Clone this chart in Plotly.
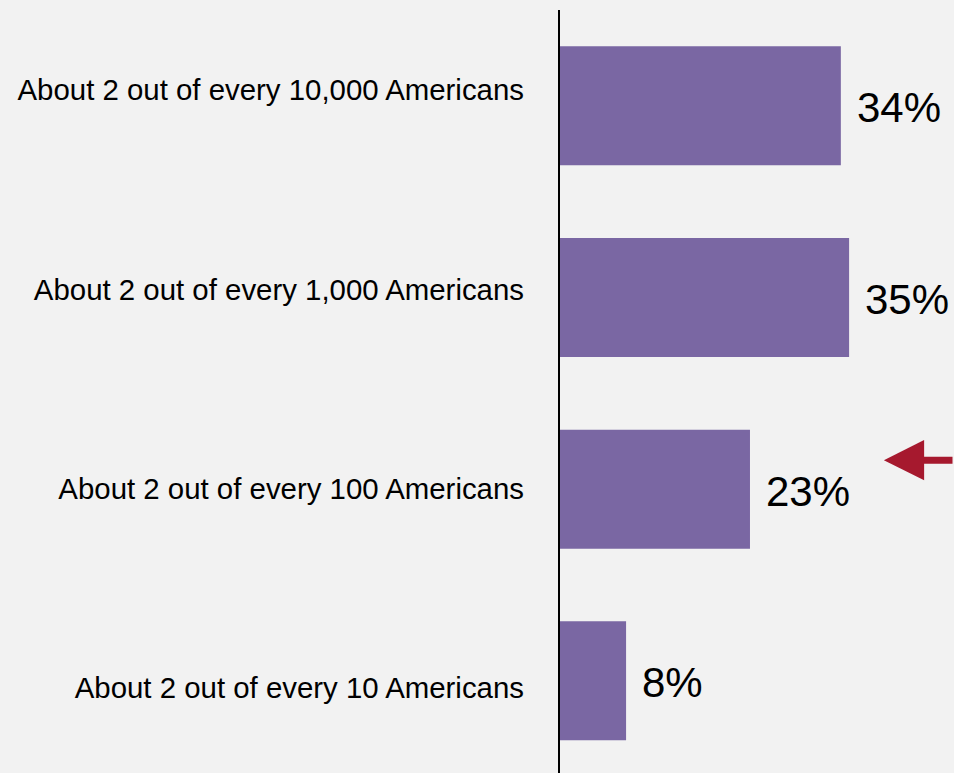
import plotly.graph_objects as go

categories = ["About 2 out of every 10 Americans",
              "About 2 out of every 100 Americans",
              "About 2 out of every 1,000 Americans",
              "About 2 out of every 10,000 Americans"]
values = [8, 23, 35, 34]
labels = ["8%", "23%", "35%", "34%"]

BAR = "#7a67a3"
BG = "#f2f2f2"
FONT = "Liberation Sans"

fig = go.Figure()
fig.add_trace(go.Bar(
    y=categories, x=values, orientation="h",
    marker=dict(color=BAR, line=dict(width=0)),
    hoverinfo="skip",
))
# invisible trace carrying the category labels (slightly different spacing)
fig.add_trace(go.Scatter(
    y=categories, x=values, yaxis="y2", mode="markers",
    marker=dict(opacity=0), hoverinfo="skip",
))

for c, v, t in zip(categories, values, labels):
    fig.add_annotation(x=v, y=c, xref="x", yref="y", text=t, showarrow=False,
                       xanchor="left", yanchor="middle", xshift=14, yshift=-2,
                       font=dict(family=FONT, size=42, color="black"))

# red arrow pointing left
fig.add_annotation(x=0.822, y=0.410, xref="paper", yref="paper", text="",
                   showarrow=True, ax=80, ay=0, axref="pixel", ayref="pixel",
                   arrowhead=2, arrowsize=1.15, arrowwidth=7, arrowcolor="#a6192e",
                   standoff=0)

fig.update_layout(
    width=954, height=773,
    margin=dict(l=560, r=0, t=10, b=0),
    paper_bgcolor=BG, plot_bgcolor=BG,
    bargap=0.379,
    showlegend=False,
    xaxis=dict(range=[0, 47.7], visible=False, fixedrange=True),
    yaxis=dict(type="category", categoryorder="array", categoryarray=categories,
               range=[-0.481, 3.5], showline=True, linecolor="black", linewidth=2,
               showgrid=False, zeroline=False, ticks="", showticklabels=False,
               fixedrange=True),
    yaxis2=dict(type="category", categoryorder="array", categoryarray=categories,
                overlaying="y", side="left", range=[-0.4265, 3.402],
                showline=False, showgrid=False, zeroline=False, ticks="",
                ticklabelstandoff=35,
                tickfont=dict(family=FONT, size=29.4, color="black"), fixedrange=True),
)

fig.write_html("out.html", config={"displayModeBar": False},
               post_script="document.body.style.margin='0';document.body.style.overflow='hidden';")
